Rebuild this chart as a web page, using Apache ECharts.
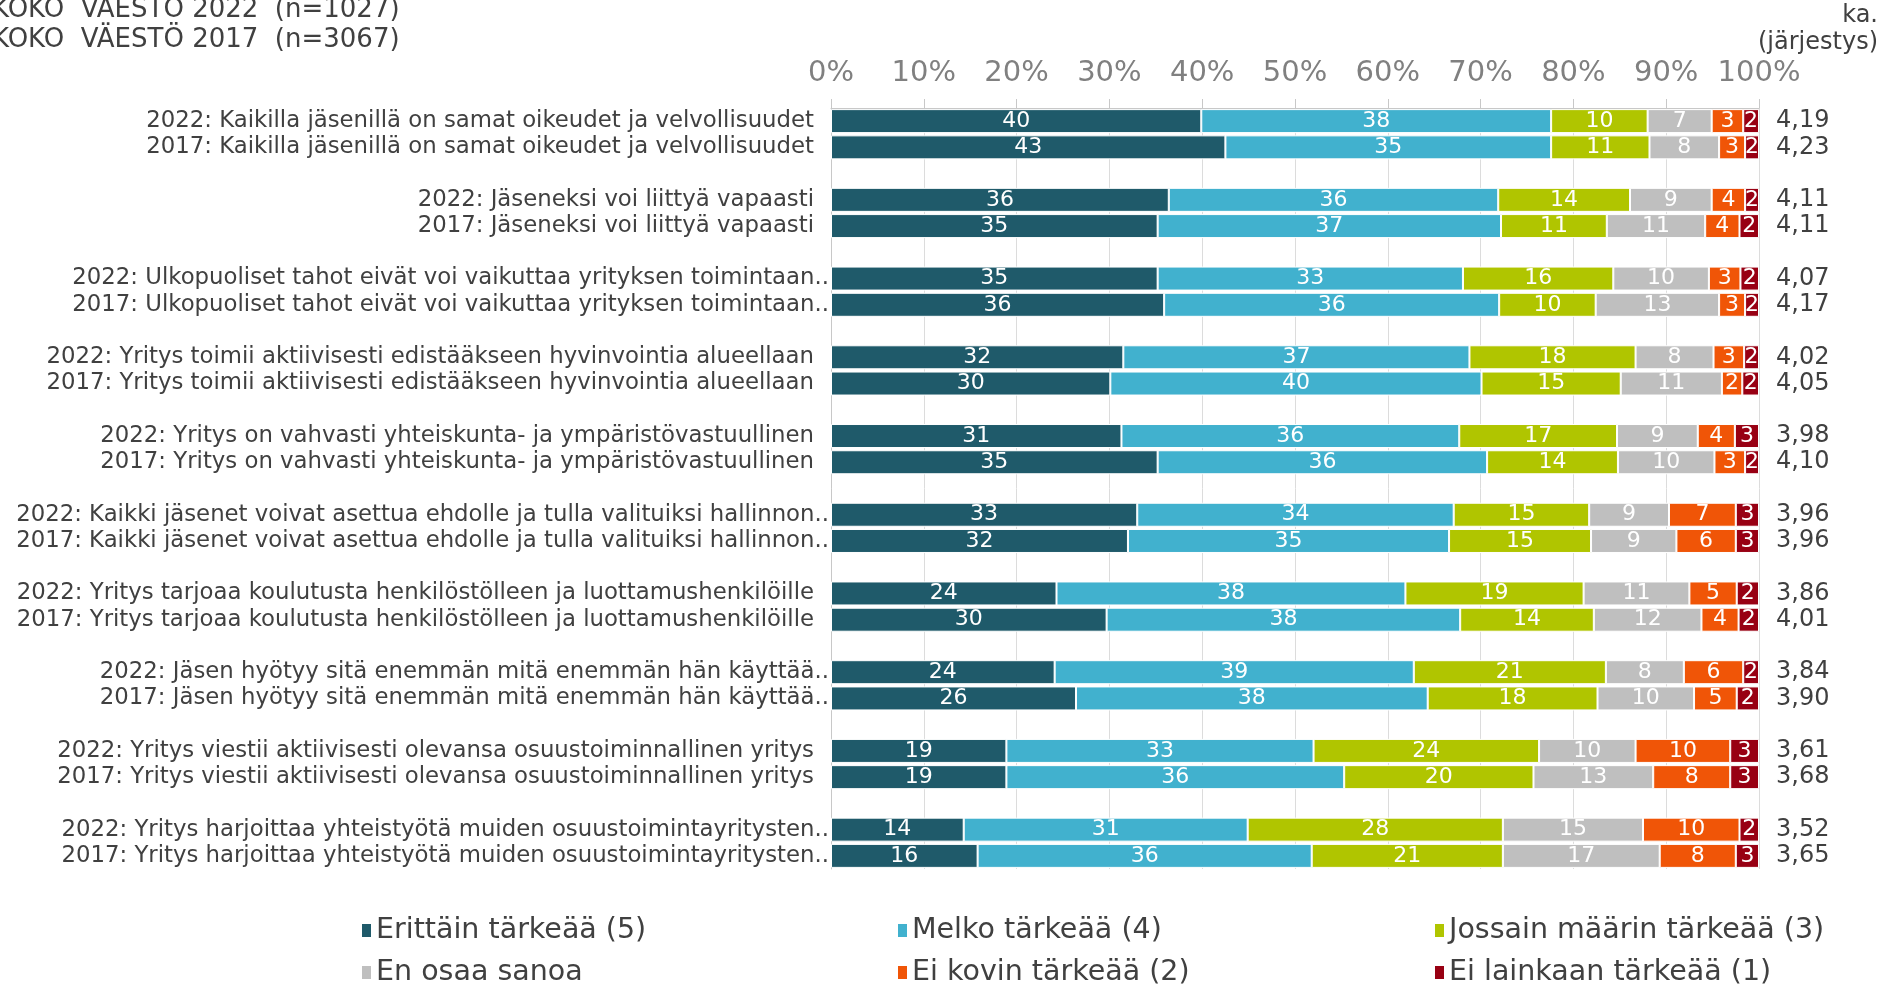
<!DOCTYPE html>
<html><head><meta charset="utf-8">
<script src="https://cdn.jsdelivr.net/npm/echarts@6/dist/echarts.min.js"></script>
<style>html,body{margin:0;padding:0;background:#fff;}#c{width:1880px;height:986px;}</style>
</head><body><div id="c"></div>
<script>
var statements = [
  "Kaikilla jäsenillä on samat oikeudet ja velvollisuudet",
  "Jäseneksi voi liittyä vapaasti",
  "Ulkopuoliset tahot eivät voi vaikuttaa yrityksen toimintaan..",
  "Yritys toimii aktiivisesti edistääkseen hyvinvointia alueellaan",
  "Yritys on vahvasti yhteiskunta- ja ympäristövastuullinen",
  "Kaikki jäsenet voivat asettua ehdolle ja tulla valituiksi hallinnon..",
  "Yritys tarjoaa koulutusta henkilöstölleen ja luottamushenkilöille",
  "Jäsen hyötyy sitä enemmän mitä enemmän hän käyttää..",
  "Yritys viestii aktiivisesti olevansa osuustoiminnallinen yritys",
  "Yritys harjoittaa yhteistyötä muiden osuustoimintayritysten.."
];
var years = ["2022", "2017"];
var seriesNames = ["Erittäin tärkeää (5)", "Melko tärkeää (4)", "Jossain määrin tärkeää (3)", "En osaa sanoa", "Ei kovin tärkeää (2)", "Ei lainkaan tärkeää (1)"];
var colors = ["#1f5a6a", "#41b1ce", "#b0c500", "#bfbfbf", "#f05507", "#980013"];
// rows in order: statement1 2022, statement1 2017, statement2 2022, ...
var erittain = [39.9, 42.5, 36.4, 35.2, 35.2, 35.9, 31.5, 30.1, 31.3, 35.2, 33.0, 32.0, 24.3, 29.7, 24.1, 26.4, 18.9, 18.9, 14.3, 15.8];
var melko    = [37.7, 35.1, 35.5, 37.0, 32.9, 36.1, 37.3, 40.0, 36.4, 35.5, 34.1, 34.6, 37.6, 38.1, 38.7, 37.9, 33.1, 36.4, 30.6, 36.0];
var jossain  = [10.4, 10.6, 14.2, 11.4, 16.2, 10.4, 17.9, 15.0, 17.0, 14.1, 14.6, 15.3, 19.2, 14.4, 20.7, 18.3, 24.3, 20.4, 27.5, 20.6];
var eos      = [6.9, 7.5, 8.8, 10.6, 10.3, 13.3, 8.4, 10.9, 8.7, 10.4, 8.6, 9.2, 11.4, 11.6, 8.4, 10.4, 10.4, 12.9, 15.1, 16.9];
var eiKovin  = [3.4, 2.8, 3.6, 3.7, 3.4, 2.8, 3.3, 2.2, 4.0, 3.3, 7.2, 6.4, 5.1, 4.0, 6.4, 4.6, 10.2, 8.3, 10.4, 8.2];
var eiLainkaan = [1.7, 1.5, 1.5, 2.1, 2.0, 1.5, 1.6, 1.8, 2.6, 1.5, 2.5, 2.5, 2.4, 2.2, 1.7, 2.4, 3.1, 3.1, 2.1, 2.5];
var means = ["4,19", "4,23", "4,11", "4,11", "4,07", "4,17", "4,02", "4,05", "3,98", "4,10", "3,96", "3,96", "3,86", "4,01", "3,84", "3,90", "3,61", "3,68", "3,52", "3,65"];
var tickLabels = ["0%", "10%", "20%", "30%", "40%", "50%", "60%", "70%", "80%", "90%", "100%"];

var FONT = "'DejaVu Sans', sans-serif";
var TXT = "#404040";

// build category rows with blank spacer rows between statement groups
var cats = [], meanCats = [], rowIndex = [];
statements.forEach(function (s, i) {
  years.forEach(function (y, j) {
    cats.push(y + ": " + s);
    meanCats.push(means[i * 2 + j]);
    rowIndex.push(i * 2 + j);
  });
  if (i < statements.length - 1) { cats.push(""); meanCats.push(""); rowIndex.push(-1); }
});
function expand(arr) { return rowIndex.map(function (r) { return r < 0 ? "-" : arr[r]; }); }
var allSeries = [erittain, melko, jossain, eos, eiKovin, eiLainkaan];

var series = allSeries.map(function (arr, k) {
  return {
    name: seriesNames[k], type: "bar", stack: "total", barWidth: 24,
    data: expand(arr),
    itemStyle: { color: colors[k], borderColor: "#ffffff", borderWidth: 1 },
    label: { show: true, position: "inside", color: "#ffffff", fontFamily: FONT, fontSize: 22,
      formatter: function (p) { return Math.round(p.value); } },
    emphasis: { disabled: true }
  };
});

function legendCol(left, items) {
  return { left: left, top: 916, height: 120, padding: 0, orient: "vertical", itemGap: 13, itemWidth: 11, itemHeight: 15,
    selectedMode: false, data: items.map(function (n) { return { name: n, icon: "rect" }; }),
    textStyle: { fontFamily: FONT, fontSize: 28.5, lineHeight: 29, color: TXT, padding: [0, 0, 0, -1] } };
}

var chart = echarts.init(document.getElementById("c"), null, { renderer: "canvas" });
chart.setOption({
  animation: false,
  backgroundColor: "#ffffff",
  color: colors,
  grid: { left: 831, right: 121, top: 108, bottom: 117, containLabel: false, outerBoundsMode: "none" },
  legend: [
    legendCol(360, [seriesNames[0], seriesNames[3]]),
    legendCol(896, [seriesNames[1], seriesNames[4]]),
    legendCol(1433, [seriesNames[2], seriesNames[5]])
  ],
  xAxis: {
    type: "value", position: "top", min: 0, max: 100, interval: 10,
    axisLine: { show: true, lineStyle: { color: "#c8c8c8", width: 1 } },
    axisTick: { show: true, length: 9, lineStyle: { color: "#c8c8c8" } },
    splitLine: { show: true, lineStyle: { color: "#dcdcdc", width: 1 } },
    axisLabel: { margin: 20, color: "#808080", fontFamily: FONT, fontSize: 29,
      formatter: function (v) { return tickLabels[Math.round(v / 10)]; } }
  },
  yAxis: [
    { type: "category", data: cats, inverse: true,
      axisLine: { show: true, lineStyle: { color: "#c8c8c8" } }, axisTick: { show: false },
      axisLabel: { margin: 2, color: TXT, fontFamily: FONT, fontSize: 22.8, interval: 0,
        formatter: function (v) {
          if (!v) return "";
          return /\.\.$/.test(v) ? "{t|" + v + "}" : "{t|" + v + "}{s| }";
        },
        rich: {
          t: { color: TXT, fontFamily: FONT, fontSize: 22.8 },
          s: { width: 15, fontFamily: FONT, fontSize: 22.8 }
        } } },
    { type: "category", data: meanCats, inverse: true, position: "right",
      axisLine: { show: false }, axisTick: { show: false },
      axisLabel: { margin: 17, color: TXT, fontFamily: FONT, fontSize: 24, interval: 0 } }
  ],
  graphic: [
    { type: "text", left: -8, top: -3, style: { text: "KOKO  VÄESTÖ 2022  (n=1027)", fill: TXT, font: "26px " + FONT } },
    { type: "text", left: -8, top: 27, style: { text: "KOKO  VÄESTÖ 2017  (n=3067)", fill: TXT, font: "26px " + FONT } },
    { type: "text", right: 2, top: 4, style: { text: "ka.", fill: TXT, font: "24px " + FONT } },
    { type: "text", right: 2, top: 31, style: { text: "(järjestys)", fill: TXT, font: "24px " + FONT } }
  ],
  series: series
});
</script></body></html>
